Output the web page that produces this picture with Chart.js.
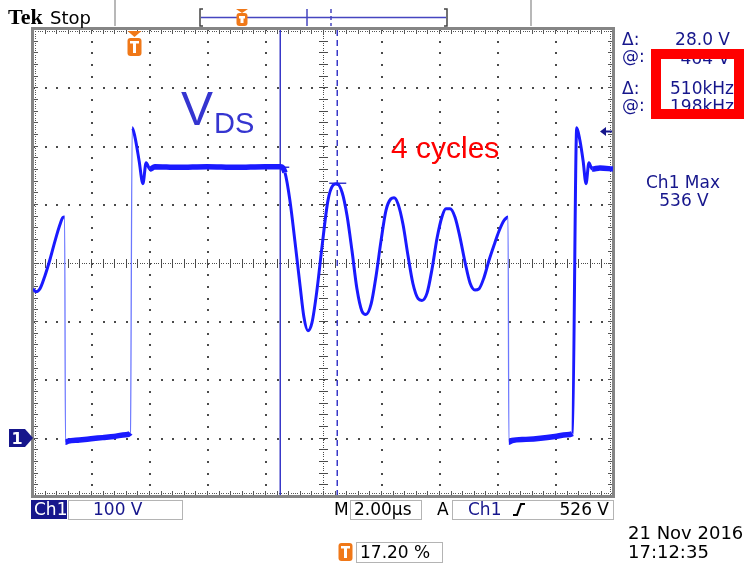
<!DOCTYPE html>
<html>
<head>
<meta charset="utf-8">
<script src="https://cdn.jsdelivr.net/npm/chart.js@4"></script>
<style>
  html, body { margin: 0; padding: 0; background: #fff; }
  #wrap { position: relative; width: 748px; height: 564px; }
</style>
</head>
<body>
<div id="wrap"><canvas id="scope" width="748" height="564"></canvas></div>
<script>
// Ch1 trace, time in µs (2 µs/div), volts (100 V/div)
const tailTime   = [0, 0.1, 0.24, 0.41, 0.59, 0.76, 0.93, 1.03, 1.09];
const tailVolts  = [255, 250, 255, 277, 306, 337, 365, 377, 378];
const offTime1   = [1.12, 1.21, 1.6, 2.0, 2.4, 2.8, 3.2, 3.36];
const offVolts1  = [-8, -6, -4, -2, 0, 2, 5, 8];
const spikeTime1 = [3.42, 3.52, 3.66, 3.79, 3.9, 4.03, 4.2];
const spikeVolts1 = [531, 514, 474, 435, 471, 460, 464];
const flatTime   = [5, 6, 7, 8, 8.55];
const flatVolts  = [463, 464, 463, 464, 464];
const ringTime = [8.69, 8.86, 9.03, 9.21, 9.34, 9.48, 9.62, 9.79, 9.97, 10.17,
  10.34, 10.48, 10.66, 10.83, 11.0, 11.17, 11.34, 11.48, 11.66, 11.83,
  12.0, 12.17, 12.34, 12.45, 12.59, 12.76, 12.93, 13.1, 13.28, 13.41,
  13.59, 13.76, 13.93, 14.1, 14.24, 14.38, 14.55, 14.72, 14.9, 15.07,
  15.24, 15.38, 15.55, 15.72, 15.9, 16.07, 16.24, 16.34, 16.38];
const ringVolts = [454, 406, 337, 260, 207, 183, 197, 252, 329, 406,
  432, 435, 420, 380, 320, 255, 217, 211, 229, 277,
  337, 389, 409, 411, 400, 365, 312, 264, 238, 235,
  248, 289, 341, 378, 392, 392, 378, 344, 300, 265,
  253, 255, 274, 303, 330, 354, 372, 377, 378];
const offTime2   = [16.41, 16.52, 17.0, 17.5, 18.0, 18.4, 18.6];
const offVolts2  = [-8, -5, -3, -1, 2, 5, 7];
const spikeTime2 = [18.75, 18.86, 18.97, 19.07, 19.17, 19.28, 19.55, 20.0];
const spikeVolts2 = [531, 509, 474, 435, 471, 460, 462, 460];

// graticule: 10 x 8 divisions
const timeDivs = [0, 2, 4, 6, 8, 10, 12, 14, 16, 18, 20];
const voltDivs = [-100, 0, 100, 200, 300, 400, 500, 600, 700];
const timeCenter = 10;
const voltCenter = 300;

// cursors and trigger
const cursorTimes = [8.52, 10.48];
const cursorVolts = [464, 436];
const triggerTime = 3.5;
const triggerLevel = 526;
const groundLevel = 0;

const NAVY = '#16168c';
const ORANGE = '#f07818';

function zip(ts, vs) {
  const out = [];
  for (let i = 0; i < Math.min(ts.length, vs.length); i++) out.push({ x: ts[i], y: vs[i] });
  return out;
}
const tracePoints = [].concat(
  zip(tailTime, tailVolts), zip(offTime1, offVolts1), zip(spikeTime1, spikeVolts1),
  zip(flatTime, flatVolts), zip(ringTime, ringVolts), zip(offTime2, offVolts2),
  zip(spikeTime2, spikeVolts2)
);

function isEdge(c) {
  return Math.abs(c.p1.parsed.y - c.p0.parsed.y) > 150 && (c.p1.parsed.x - c.p0.parsed.x) < 0.1;
}
function isNoisy(c) {
  const a = c.p0.parsed.y, b = c.p1.parsed.y;
  if (Math.abs(a) < 30 && Math.abs(b) < 30) return true;
  return a > 440 && a < 470 && b > 440 && b < 470;
}

const graticule = {
  id: 'graticule',
  beforeDatasetsDraw(chart) {
    const { ctx, chartArea: a, scales: { x, y } } = chart;
    ctx.save();
    ctx.fillStyle = '#4a4a4a';
    // vertical division lines
    timeDivs.slice(1, -1).forEach(t => {
      const px = Math.round(x.getPixelForValue(t));
      const center = t === timeCenter;
      const n = center ? 200 : 40;
      for (let j = 0; j <= n; j++) {
        const py = Math.round(y.getPixelForValue(-100 + j * 800 / n));
        ctx.fillRect(px, py, center ? 1 : 2, center ? 1 : 2);
      }
      if (center) {
        for (let j = 0; j <= 40; j++) {
          const py = Math.round(y.getPixelForValue(-100 + j * 20));
          ctx.fillRect(px - 4, py, 9, 1);
        }
      }
    });
    // horizontal division lines
    voltDivs.slice(1, -1).forEach(v => {
      const py = Math.round(y.getPixelForValue(v));
      const center = v === voltCenter;
      const n = center ? 250 : 50;
      for (let j = 0; j <= n; j++) {
        const px = Math.round(x.getPixelForValue(j * 20 / n));
        ctx.fillRect(px, py, center ? 1 : 2, center ? 1 : 2);
      }
      if (center) {
        for (let j = 0; j <= 50; j++) {
          const px = Math.round(x.getPixelForValue(j * 0.4));
          ctx.fillRect(px, py - 4, 1, 9);
        }
      }
    });
    // ruler ticks along the frame
    ctx.fillStyle = '#555';
    for (let j = 0; j <= 250; j++) {
      const px = Math.round(x.getPixelForValue(j * 0.08));
      ctx.fillRect(px, a.top + 2, 1, 1);
      ctx.fillRect(px, a.bottom - 3, 1, 1);
    }
    for (let j = 0; j <= 200; j++) {
      const py = Math.round(y.getPixelForValue(-100 + j * 4));
      ctx.fillRect(a.left + 2, py, 1, 1);
      ctx.fillRect(a.right - 3, py, 1, 1);
    }
    for (let j = 0; j <= 50; j++) {
      const px = Math.round(x.getPixelForValue(j * 0.4));
      ctx.fillRect(px, a.top + 1, 1, 4);
      ctx.fillRect(px, a.bottom - 5, 1, 4);
    }
    for (let j = 0; j <= 40; j++) {
      const py = Math.round(y.getPixelForValue(-100 + j * 20));
      ctx.fillRect(a.left + 1, py, 4, 1);
      ctx.fillRect(a.right - 5, py, 4, 1);
    }
    // frame
    ctx.strokeStyle = '#858585';
    ctx.lineWidth = 3;
    ctx.strokeRect(a.left - 0.5, a.top - 0.5, a.right - a.left + 1, a.bottom - a.top + 1);

    // cursors
    ctx.strokeStyle = '#3838c8';
    ctx.lineWidth = 1.5;
    cursorTimes.forEach((t, i) => {
      const px = Math.round(x.getPixelForValue(t)) + 0.25;
      ctx.setLineDash(i === 0 ? [] : [6, 4]);
      ctx.beginPath();
      ctx.moveTo(px, a.top + 1);
      ctx.lineTo(px, a.bottom - 1);
      ctx.stroke();
      ctx.setLineDash([]);
      const py = Math.round(y.getPixelForValue(cursorVolts[i])) + 0.25;
      ctx.beginPath();
      ctx.moveTo(px - 8, py);
      ctx.lineTo(px + 9, py);
      ctx.stroke();
    });
    ctx.restore();
  },
  afterDraw(chart) {
    const { ctx, chartArea: a, scales: { x, y } } = chart;
    ctx.save();
    const txt = (s, px, py, font, color, align) => {
      ctx.font = font;
      ctx.fillStyle = color;
      ctx.textAlign = align || 'left';
      ctx.textBaseline = 'alphabetic';
      ctx.fillText(s, px, py);
    };
    const tMarker = (cx, top, w, h) => {
      ctx.fillStyle = ORANGE;
      ctx.beginPath();
      ctx.roundRect(cx - w / 2, top, w, h, 3);
      ctx.fill();
      ctx.fillStyle = '#fff';
      ctx.fillRect(cx - w / 2 + 2.5, top + 3, w - 5, 2.5);
      ctx.fillRect(cx - 1.5, top + 3, 3, h - 6);
    };

    // trigger position marker on the graticule
    const tx = x.getPixelForValue(triggerTime);
    ctx.fillStyle = ORANGE;
    ctx.beginPath();
    ctx.moveTo(tx - 7, a.top + 2);
    ctx.lineTo(tx + 7, a.top + 2);
    ctx.lineTo(tx, a.top + 8);
    ctx.fill();
    tMarker(tx, a.top + 9, 14, 18);

    // ground marker of channel 1
    const gy = Math.round(y.getPixelForValue(groundLevel));
    ctx.fillStyle = NAVY;
    ctx.beginPath();
    ctx.moveTo(9, gy - 9);
    ctx.lineTo(25, gy - 9);
    ctx.lineTo(33, gy);
    ctx.lineTo(25, gy + 9);
    ctx.lineTo(9, gy + 9);
    ctx.closePath();
    ctx.fill();
    txt('1', 17, gy + 6, 'bold 16px "DejaVu Sans"', '#fff', 'center');

    // trigger level arrow
    const ly = Math.round(y.getPixelForValue(triggerLevel)) + 0.5;
    ctx.fillStyle = NAVY;
    ctx.beginPath();
    ctx.moveTo(600, ly);
    ctx.lineTo(606, ly - 4.5);
    ctx.lineTo(606, ly + 4.5);
    ctx.fill();
    ctx.fillRect(605, ly - 1, 7, 2);

    // top status line
    txt('Tek', 8, 24, 'bold 22px "Liberation Serif"', '#000');
    txt('Stop', 50, 24, '18px "DejaVu Sans"', '#000');
    ctx.fillStyle = '#b8b8b8';
    ctx.fillRect(114, 0, 2, 26);
    ctx.fillRect(530, 0, 2, 26);
    // record view bar
    ctx.strokeStyle = '#444';
    ctx.lineWidth = 1.5;
    ctx.beginPath();
    ctx.moveTo(203, 9); ctx.lineTo(200, 9); ctx.lineTo(200, 26); ctx.lineTo(203, 26);
    ctx.moveTo(444, 9); ctx.lineTo(447, 9); ctx.lineTo(447, 26); ctx.lineTo(444, 26);
    ctx.stroke();
    ctx.strokeStyle = '#4646c0';
    ctx.beginPath();
    ctx.moveTo(201, 17.5); ctx.lineTo(446, 17.5);
    ctx.moveTo(307, 9); ctx.lineTo(307, 26);
    ctx.stroke();
    ctx.setLineDash([4, 3]);
    ctx.beginPath();
    ctx.moveTo(331, 9); ctx.lineTo(331, 26);
    ctx.stroke();
    ctx.setLineDash([]);
    ctx.fillStyle = ORANGE;
    ctx.beginPath();
    ctx.moveTo(236, 9); ctx.lineTo(248, 9); ctx.lineTo(242, 13);
    ctx.fill();
    tMarker(242, 13, 11, 13);

    // cursor readouts
    const rf = '17px "DejaVu Sans"';
    txt('Δ:', 622, 45, rf, NAVY);
    txt('28.0 V', 730, 45, rf, NAVY, 'right');
    txt('@:', 622, 62, rf, NAVY);
    txt('464 V', 730, 64, rf, NAVY, 'right');
    txt('Δ:', 622, 94, rf, NAVY);
    txt('510kHz', 734, 94, rf, NAVY, 'right');
    txt('@:', 622, 111, rf, NAVY);
    txt('198kHz', 734, 112, rf, NAVY, 'right');
    ctx.strokeStyle = '#ff0000';
    ctx.lineWidth = 10;
    ctx.strokeRect(656, 54, 83, 60);
    txt('Ch1 Max', 683, 188, rf, NAVY, 'center');
    txt('536 V', 684, 206, rf, NAVY, 'center');

    // annotations
    txt('V', 181, 125, '48px "Liberation Sans"', '#3535d0');
    txt('DS', 214, 133, '29px "Liberation Sans"', '#3535d0');
    txt('4 cycles', 391, 158, '30px "Liberation Sans"', '#ff0000');

    // bottom status line
    ctx.fillStyle = NAVY;
    ctx.fillRect(31, 500, 36, 19);
    txt('Ch1', 34, 515, rf, '#fff');
    ctx.strokeStyle = '#b4b4b4';
    ctx.lineWidth = 1;
    ctx.strokeRect(68.5, 500.5, 114, 19);
    txt('100 V', 93, 515, rf, NAVY);
    txt('M', 334, 515, rf, '#000');
    ctx.strokeRect(350.5, 500.5, 71, 19);
    txt('2.00µs', 354, 515, rf, '#000');
    txt('A', 437, 515, rf, '#000');
    ctx.strokeRect(452.5, 500.5, 161, 19);
    txt('Ch1', 468, 515, rf, NAVY);
    ctx.strokeStyle = '#000';
    ctx.lineWidth = 2;
    ctx.beginPath();
    ctx.moveTo(513, 515); ctx.lineTo(517, 515); ctx.lineTo(521, 504); ctx.lineTo(525, 504);
    ctx.stroke();
    txt('526 V', 609, 515, rf, '#000', 'right');

    tMarker(345.5, 543, 14, 18);
    ctx.strokeStyle = '#b4b4b4';
    ctx.lineWidth = 1;
    ctx.strokeRect(356.5, 542.5, 86, 20);
    txt('17.20 %', 360, 558, rf, '#000');
    txt('21 Nov 2016', 628, 539, '18px "DejaVu Sans"', '#000');
    txt('17:12:35', 628, 558, '18px "DejaVu Sans"', '#000');
    ctx.restore();
  }
};

new Chart(document.getElementById('scope'), {
  type: 'line',
  data: {
    datasets: [{
      label: 'Ch1',
      data: tracePoints,
      borderColor: '#1a1aff',
      borderWidth: 3,
      pointRadius: 0,
      cubicInterpolationMode: 'monotone',
      segment: {
        borderWidth: c => isEdge(c) ? 1.3 : (isNoisy(c) ? 5.5 : 3),
        borderColor: c => isEdge(c) ? '#6c78ff' : '#1a1aff'
      }
    }]
  },
  options: {
    responsive: false,
    animation: false,
    events: [],
    layout: { padding: { left: 33, right: 135, top: 29, bottom: 68 } },
    plugins: { legend: { display: false }, tooltip: { enabled: false } },
    scales: {
      x: { type: 'linear', min: 0, max: 20, display: false },
      y: { min: -100, max: 700, display: false }
    }
  },
  plugins: [graticule]
});
</script>
</body>
</html>
